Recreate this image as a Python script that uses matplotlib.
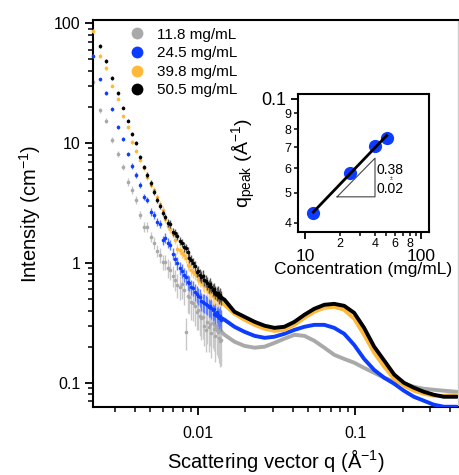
import numpy as np
import matplotlib
matplotlib.use('Agg')
import matplotlib.pyplot as plt
from matplotlib.ticker import LogLocator, FuncFormatter, NullFormatter, FixedLocator, FixedFormatter
from matplotlib.lines import Line2D

plt.rcParams['font.family'] = ['Liberation Sans', 'DejaVu Sans']
plt.rcParams['mathtext.fontset'] = 'custom'
plt.rcParams['mathtext.rm'] = 'Liberation Sans'
plt.rcParams['mathtext.it'] = 'Liberation Sans:italic'
plt.rcParams['mathtext.bf'] = 'Liberation Sans:bold'

# ---- datos ----
etiquetas = ['11.8 mg/mL', '24.5 mg/mL', '39.8 mg/mL', '50.5 mg/mL']
colores = ['#a9a9a9', '#0b3cff', '#ffb838', '#000000']
colores_err = ['#c8c8c8', '#5f7dff', '#ffd27f', '#555555']

# bajo q: puntos con barras de error
q_bajo = [0.00216, 0.00238, 0.00262, 0.00286, 0.00310, 0.00334, 0.00358, 0.00382,
          0.00406, 0.00430, 0.00454, 0.00478, 0.00502, 0.00526, 0.00550, 0.00574,
          0.00598, 0.00622, 0.00646, 0.00670, 0.00694, 0.00718, 0.00742, 0.00766,
          0.00790, 0.00814, 0.00838, 0.00862, 0.00886, 0.00910, 0.00934, 0.00958,
          0.00982, 0.01006, 0.01030, 0.01054, 0.01078, 0.01102, 0.01126, 0.01150,
          0.01174, 0.01198, 0.01222, 0.01246, 0.01270, 0.01294, 0.01318, 0.01342,
          0.01366, 0.01390, 0.01414]

I_gris_bajo = [32.2, 18.8, 15.3, 10.6, 8.10, 6.31, 4.73, 4.06, 3.35, 2.51, 2.00, 2.00,
               1.65, 1.47, 1.26, 1.17, 1.02, 1.02, 0.908, 0.874, 0.779, 0.722, 0.656,
               0.631, 0.668, 0.596, 0.266, 0.531, 0.521, 0.473, 0.464, 0.438, 0.391,
               0.406, 0.362, 0.348, 0.355, 0.299, 0.276, 0.322, 0.293, 0.310, 0.261,
               0.316, 0.282, 0.246, 0.276, 0.266, 0.237, 0.224, 0.228]
I_azul_bajo = [53.1, 34.1, 26.1, 19.2, 13.6, 10.8, 8.10, 6.43, 5.41, 4.47, 3.55, 3.35,
               2.66, 2.51, 2.20, 2.11, 1.55, 1.62, 1.47, 1.41, 1.19, 1.08, 1.00, 0.908,
               0.858, 0.794, 0.765, 0.695, 0.681, 0.631, 0.619, 0.573, 0.552, 0.531,
               0.521, 0.482, 0.473, 0.464, 0.455, 0.447, 0.430, 0.438, 0.422, 0.406,
               0.414, 0.383, 0.391, 0.369, 0.348, 0.362, 0.335]
I_naranja_bajo = [85.8, 53.1, 42.2, 29.9, 23.3, 16.8, 13.6, 10.2, 8.58, 7.22, 6.19, 5.21,
                  4.47, 4.06, 3.55, 3.10, 2.77, 2.33, 2.03, 1.92, 1.74, 1.55, 1.31, 1.28,
                  1.21, 1.17, 1.10, 0.962, 0.944, 0.874, 0.841, 0.810, 0.779, 0.736,
                  0.708, 0.722, 0.668, 0.643, 0.656, 0.607, 0.573, 0.562, 0.584, 0.531,
                  0.521, 0.541, 0.501, 0.511, 0.492, 0.531, 0.501]
I_negro_bajo = [np.nan, 64.4, 48.3, 34.8, 26.1, 19.6, 15.3, 11.9, 10.0, 7.64, 6.31, 5.41,
                4.64, 3.91, 3.35, 2.99, 2.61, 2.42, 2.15, 2.11, 1.81, 1.78, 1.68, 1.52,
                1.47, 1.36, 1.33, 1.24, 1.10, 1.06, 1.00, 0.944, 0.841, 0.858, 0.794,
                0.765, 0.779, 0.722, 0.708, 0.681, 0.643, 0.668, 0.631, 0.596, 0.607,
                0.573, 0.552, 0.562, 0.521, 0.541, 0.511]

err_gris = [0.05, 0.05, 0.05, 0.06, 0.06, 0.06, 0.07, 0.07, 0.08, 0.08, 0.09, 0.10, 0.10,
            0.12, 0.12, 0.14, 0.15, 0.15, 0.18, 0.18, 0.20, 0.20, 0.22, 0.22, 0.25, 0.25,
            0.30, 0.28, 0.28, 0.30, 0.30, 0.32, 0.30, 0.32, 0.32, 0.35, 0.35, 0.32, 0.35,
            0.35, 0.38, 0.35, 0.38, 0.38, 0.35, 0.40, 0.38, 0.40, 0.38, 0.40, 0.40]
err_azul = [0.03, 0.03, 0.03, 0.04, 0.04, 0.04, 0.04, 0.05, 0.05, 0.05, 0.06, 0.06, 0.07,
            0.07, 0.08, 0.08, 0.09, 0.09, 0.10, 0.10, 0.11, 0.11, 0.12, 0.12, 0.13, 0.13,
            0.14, 0.14, 0.15, 0.15, 0.15, 0.16, 0.16, 0.16, 0.17, 0.17, 0.17, 0.18, 0.18,
            0.18, 0.18, 0.19, 0.19, 0.19, 0.20, 0.20, 0.20, 0.20, 0.20, 0.20, 0.20]
err_naranja = [0.03, 0.03, 0.03, 0.03, 0.03, 0.03, 0.04, 0.04, 0.04, 0.04, 0.05, 0.05, 0.05,
               0.06, 0.06, 0.06, 0.07, 0.07, 0.07, 0.08, 0.08, 0.08, 0.09, 0.09, 0.09, 0.10,
               0.10, 0.10, 0.10, 0.11, 0.11, 0.11, 0.11, 0.12, 0.12, 0.12, 0.12, 0.12, 0.13,
               0.13, 0.13, 0.13, 0.13, 0.14, 0.14, 0.14, 0.14, 0.14, 0.15, 0.15, 0.15]
err_negro = [0.03, 0.03, 0.03, 0.03, 0.03, 0.03, 0.03, 0.04, 0.04, 0.04, 0.04, 0.05, 0.05,
             0.05, 0.05, 0.06, 0.06, 0.06, 0.07, 0.07, 0.07, 0.08, 0.08, 0.08, 0.08, 0.09,
             0.09, 0.09, 0.09, 0.10, 0.10, 0.10, 0.10, 0.10, 0.11, 0.11, 0.11, 0.11, 0.11,
             0.12, 0.12, 0.12, 0.12, 0.12, 0.12, 0.12, 0.13, 0.13, 0.13, 0.13, 0.13]

# alto q: datos densos
q_alto = [0.0128, 0.0148, 0.0171, 0.0198, 0.0230, 0.0266, 0.0307, 0.0355, 0.0411,
          0.0476, 0.0550, 0.0637, 0.0736, 0.0852, 0.0985, 0.114, 0.132, 0.153, 0.177,
          0.204, 0.236, 0.273, 0.316, 0.366, 0.442]
I_gris_alto = [0.304, 0.251, 0.220, 0.203, 0.196, 0.200, 0.215, 0.233, 0.251, 0.246,
               0.224, 0.196, 0.171, 0.158, 0.147, 0.133, 0.121, 0.110, 0.102, 0.0981,
               0.0926, 0.0891, 0.0874, 0.0858, 0.0841]
I_azul_alto = [0.370, 0.335, 0.293, 0.266, 0.246, 0.237, 0.242, 0.256, 0.276, 0.293,
               0.304, 0.304, 0.287, 0.256, 0.207, 0.158, 0.128, 0.110, 0.0981, 0.0858,
               0.0764, 0.0708, 0.0656, 0.0631, 0.0631]
I_naranja_alto = [0.520, 0.447, 0.376, 0.335, 0.304, 0.282, 0.271, 0.276, 0.304, 0.348,
                  0.391, 0.422, 0.430, 0.406, 0.342, 0.251, 0.178, 0.136, 0.108, 0.0944,
                  0.0858, 0.0810, 0.0779, 0.0779, 0.0794]
I_negro_alto = [0.560, 0.492, 0.391, 0.355, 0.322, 0.299, 0.287, 0.293, 0.322, 0.369,
                0.414, 0.447, 0.455, 0.438, 0.383, 0.287, 0.200, 0.153, 0.117, 0.100,
                0.0909, 0.0841, 0.0794, 0.0764, 0.0764]

# inset: q del pico vs concentracion
concentracion = [11.8, 24.5, 39.8, 50.5]
q_pico = [0.0431, 0.0579, 0.0707, 0.0750]
pendiente_txt = ['0.38', '±', '0.02']

series_bajo = [I_gris_bajo, I_azul_bajo, I_naranja_bajo, I_negro_bajo]
series_err = [err_gris, err_azul, err_naranja, err_negro]
series_alto = [I_gris_alto, I_azul_alto, I_naranja_alto, I_negro_alto]

# ---- figura ----
fig = plt.figure(figsize=(4.59, 4.75), dpi=100)
ax = fig.add_axes([0.2026, 0.1432, 0.7952, 0.8147])

for i in range(4):
    Ib = np.array(series_bajo[i])
    eb = Ib * np.array(series_err[i])
    ax.errorbar(q_bajo, Ib, yerr=eb, fmt='o', ms=2.6, mew=0, color=colores[i],
                ecolor=colores_err[i], elinewidth=1.0, capsize=0, clip_on=False,
                zorder=2 + i)
    ax.plot(q_alto, series_alto[i], '-', lw=2.8, color=colores[i], zorder=2 + i,
            solid_capstyle='round')

ax.set_xscale('log')
ax.set_yscale('log')
ax.set_xlim(0.00216, 0.45)
ax.set_ylim(0.0628, 106)

ax.xaxis.set_major_locator(LogLocator(base=10, numticks=10))
ax.xaxis.set_minor_locator(LogLocator(base=10, subs=np.arange(2, 10), numticks=20))
ax.xaxis.set_major_formatter(FuncFormatter(lambda v, p: f'{v:g}'))
ax.xaxis.set_minor_formatter(NullFormatter())
ax.yaxis.set_major_locator(LogLocator(base=10, numticks=10))
ax.yaxis.set_minor_locator(LogLocator(base=10, subs=np.arange(2, 10), numticks=20))
ax.yaxis.set_major_formatter(FuncFormatter(lambda v, p: f'{v:g}'))
ax.yaxis.set_minor_formatter(NullFormatter())

ax.tick_params(which='major', direction='out', length=6, width=1.3, labelsize=11.5, pad=3)
ax.tick_params(which='minor', direction='out', length=3.5, width=1.1)
ax.tick_params(axis='x', which='major', pad=8)
for lado in ['left', 'bottom', 'top']:
    ax.spines[lado].set_linewidth(1.5)
ax.spines['right'].set_color('#cccccc')
ax.spines['right'].set_linewidth(1.0)

ax.set_xlabel('Scattering vector q (Å$^{-1}$)', fontsize=14.5, labelpad=4)
ax.set_ylabel('Intensity (cm$^{-1}$)', fontsize=14.5, labelpad=8)

manejadores = [Line2D([], [], marker='o', ls='none', ms=8.5, mew=0, color=c) for c in colores]
ax.legend(manejadores, etiquetas, loc='upper left', bbox_to_anchor=(0.0997, 0.98),
          frameon=False, fontsize=11, borderpad=0, borderaxespad=0, handlelength=1.0,
          handletextpad=0.8, labelspacing=0.3)

# ---- inset ----
axi = fig.add_axes([0.6492, 0.5116, 0.2854, 0.2905])
axi.set_xscale('log')
axi.set_yscale('log')
axi.set_xlim(8.7, 117)
axi.set_ylim(0.0374, 0.1037)

pend, inter = np.polyfit(np.log10(concentracion), np.log10(q_pico), 1)
c_fit = np.array([concentracion[0], concentracion[-1]])
axi.plot(c_fit, 10 ** (inter + pend * np.log10(c_fit)), color='black', lw=2, zorder=3)
axi.plot(concentracion, q_pico, 'o', ms=9.5, mew=0, color='#0b3cff', zorder=2)

# triangulo de pendiente
c0, c1, y0 = 18.9, 40.1, 0.0485
y1 = y0 * (c1 / c0) ** 0.38
axi.plot([c0, c1, c1, c0], [y0, y0, y1, y0], color='#444444', lw=0.8, zorder=1)
axi.text(41.5, 0.0592, pendiente_txt[0], fontsize=10, va='center', ha='left')
axi.text(55, 0.0555, pendiente_txt[1], fontsize=4, va='center', ha='center')
axi.text(41.5, 0.0512, pendiente_txt[2], fontsize=10, va='center', ha='left')

axi.xaxis.set_major_locator(FixedLocator([10, 100]))
axi.xaxis.set_major_formatter(FixedFormatter(['10', '100']))
axi.xaxis.set_minor_locator(FixedLocator([20, 30, 40, 50, 60, 70, 80, 90]))
axi.xaxis.set_minor_formatter(FixedFormatter(['2', '', '4', '', '6', '', '8', '']))
axi.yaxis.set_major_locator(FixedLocator([0.1]))
axi.yaxis.set_major_formatter(FixedFormatter(['0.1']))
axi.yaxis.set_minor_locator(FixedLocator([0.04, 0.05, 0.06, 0.07, 0.08, 0.09]))
axi.yaxis.set_minor_formatter(FixedFormatter(['4', '5', '6', '7', '8', '9']))

axi.tick_params(which='major', direction='out', length=5, width=1.3, labelsize=13)
axi.tick_params(axis='x', which='major', pad=7, labelsize=12.5)
axi.tick_params(which='minor', direction='out', length=3, width=1.1, labelsize=9, pad=1.5)
axi.tick_params(axis='x', which='minor', labelbottom=True)
for lado in axi.spines:
    axi.spines[lado].set_linewidth(1.5)

axi.set_xlabel('Concentration (mg/mL)', fontsize=12.5, labelpad=-1)
axi.set_ylabel('q$_{\\mathrm{peak}}$ (Å$^{-1}$)', fontsize=14, labelpad=2)

fig.savefig('out.png', dpi=100)
